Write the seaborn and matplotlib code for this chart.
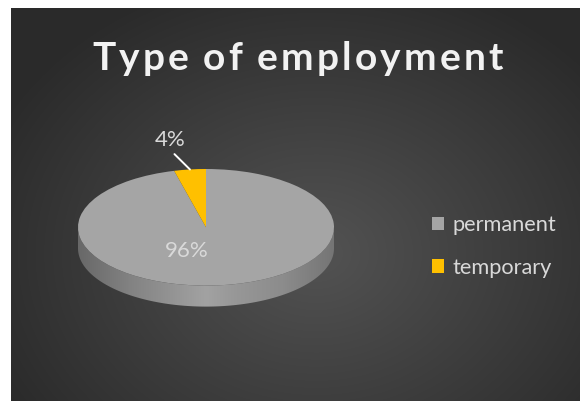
import numpy as np
import matplotlib
matplotlib.use("Agg")
import matplotlib.pyplot as plt
from matplotlib.colors import LinearSegmentedColormap
from matplotlib.patches import Polygon
import seaborn as sns

# ---- data -------------------------------------------------------------
categories = ["permanent", "temporary"]
shares = [96, 4]
slice_colors = ["#a5a5a5", "#ffc000"]
title_text = "Type of employment"

# ---- style ------------------------------------------------------------
sns.set_style("white")
plt.rcParams["font.family"] = ["Lato", "DejaVu Sans"]
palette = sns.color_palette(slice_colors)

W, H = 580, 401
fig = plt.figure(figsize=(W / 100, H / 100), dpi=100, facecolor="white")

# dark chart panel with a soft radial gradient
bg = fig.add_axes([11 / W, 0, (W - 11) / W, (H - 8) / H])
pw, ph = W - 11, H - 8
yy, xx = np.mgrid[0:ph, 0:pw]
cx, cy = 305, 245
t = np.sqrt(((xx - cx) / 360.0) ** 2 + ((yy - cy) / 290.0) ** 2)
t = np.clip(t, 0, 1)
shade = (0x53 * (1 - t) + 0x2a * t) / 255.0
bg.imshow(np.dstack([shade, shade, shade]), aspect="auto",
          extent=[0, pw, ph, 0], interpolation="bilinear")
bg.set_axis_off()

# ---- title with wide letter spacing -----------------------------------
renderer = fig.canvas.get_renderer()
title_size = 28
title_kw = dict(fontsize=title_size, fontweight="bold", color="#f2f2f2",
                family=["Lato", "DejaVu Sans"])
left_px, right_px, base_px = 92, 503, H - 69.5
pieces = []
for ch in title_text:
    if ch == " ":
        pieces.append((ch, None, title_size * 100 / 72 * 0.2))
        continue
    tx = fig.text(0, 0, ch, **title_kw)
    w = tx.get_window_extent(renderer).width
    pieces.append((ch, tx, w))
total = sum(p[2] for p in pieces)
gap = (right_px - left_px - total) / (len(pieces) - 1)
x = left_px
for ch, tx, w in pieces:
    if tx is not None:
        tx.set_position((x / W, base_px / H))
        tx.set_va("baseline")
    x += w + gap

# ---- pie --------------------------------------------------------------
center_px = (206, 227.3)      # from top-left
rx_px, ry_px = 128, 58.3
xl, yl = 1.6, 1.8
ax = fig.add_axes([(center_px[0] - xl * rx_px) / W,
                   (H - center_px[1] - yl * ry_px) / H,
                   2 * xl * rx_px / W, 2 * yl * ry_px / H])
ax.patch.set_alpha(0)

wedges, _ = ax.pie(shares, colors=palette, startangle=90, counterclock=False,
                   wedgeprops=dict(linewidth=0, zorder=3))
ax.set_aspect("auto")
ax.set_axis_off()

# visible rim of the disc (front half) with a horizontal sheen
depth = 21 / ry_px
theta = np.linspace(np.pi, 2 * np.pi, 200)
rim = np.concatenate([np.column_stack([np.cos(theta), np.sin(theta)]),
                      np.column_stack([np.cos(theta[::-1]),
                                       np.sin(theta[::-1]) - depth])])
rim_patch = Polygon(rim, closed=True, facecolor="none", edgecolor="none")
ax.add_patch(rim_patch)
rim_cmap = LinearSegmentedColormap.from_list(
    "rim", [(0.0, "#686868"), (0.2, "#828282"), (0.5, "#a2a2a2"),
            (0.62, "#979797"), (0.8, "#8c8c8c"), (1.0, "#757575")])
grad = np.linspace(0, 1, 256)[None, :]
im = ax.imshow(grad, cmap=rim_cmap, aspect="auto",
               extent=[-1, 1, -1 - depth, 0], zorder=1)
im.set_clip_path(rim_patch)
ax.set_xlim(-xl, xl)
ax.set_ylim(-yl, yl)

# ---- percentage labels ------------------------------------------------
total_share = sum(shares)
label_color = "#d9d9d9"
ax.text(-0.15, -0.40, f"{shares[0] / total_share * 100:.0f}%",
        ha="center", va="center", fontsize=16, color=label_color, zorder=5)

small = wedges[1]
mid = np.deg2rad((small.theta1 + small.theta2) / 2)
ax.annotate(f"{shares[1] / total_share * 100:.0f}%",
            xy=(np.cos(mid), np.sin(mid)), xytext=(-0.28, 1.50),
            ha="center", va="center", fontsize=16, color=label_color,
            arrowprops=dict(arrowstyle="-", color="white", lw=1.4,
                            shrinkA=1, shrinkB=0, relpos=(0.5, 0.0)),
            zorder=5)

# ---- legend -----------------------------------------------------------
fig.legend(wedges, categories, loc="center left",
           bbox_to_anchor=(432 / W, (H - 246.5) / H),
           frameon=False, fontsize=15.7, labelcolor=label_color,
           handlelength=0.57, handleheight=0.57, handletextpad=0.38,
           labelspacing=1.02, borderpad=0, borderaxespad=0)

fig.savefig("out.png", dpi=100, facecolor="white")
